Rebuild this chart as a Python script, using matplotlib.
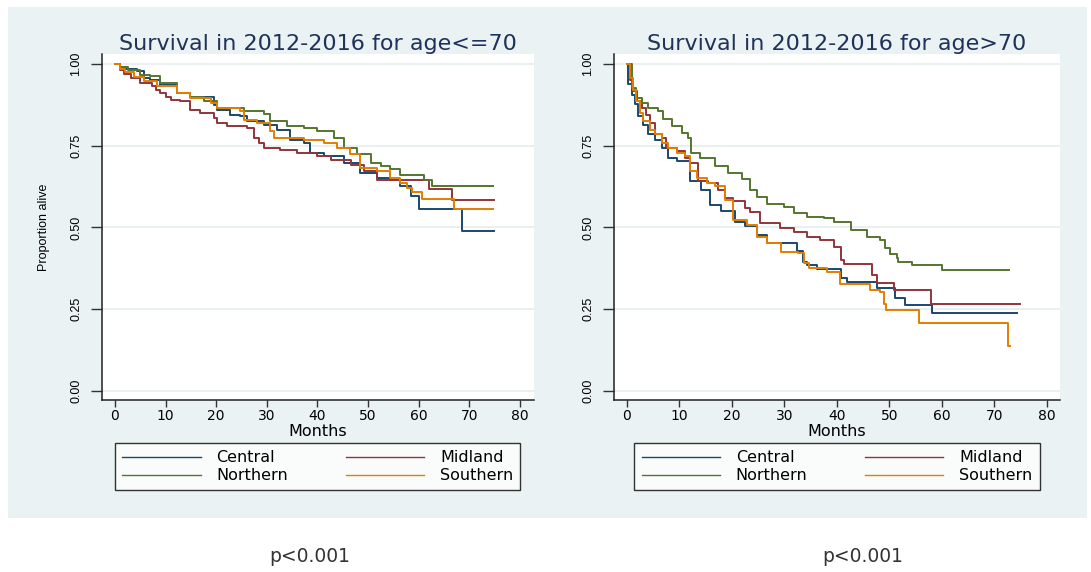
import matplotlib
matplotlib.use("Agg")
import matplotlib.pyplot as plt
from matplotlib import font_manager
from matplotlib.patches import Rectangle

# Kaplan-Meier step points (months, proportion alive)
regions = ["Central", "Midland", "Northern", "Southern"]
colors = ["#1a476f", "#90353b", "#55752f", "#e37e00"]

# age <= 70
young_central_t = [0, 1.0, 2.0, 4.4, 5.7, 7.0, 9.0, 12.3, 14.9, 19.5, 20.2, 22.8, 24.8, 26.1, 29.4, 32.0,
                   34.6, 37.3, 38.6, 41.3, 45.2, 48.5, 51.8, 54.4, 56.4, 58.4, 60.0, 68.5, 74.9]
young_central_s = [1.0, 0.99, 0.985, 0.977, 0.956, 0.952, 0.936, 0.911, 0.90, 0.875, 0.86, 0.845, 0.84, 0.824,
                   0.814, 0.799, 0.768, 0.758, 0.728, 0.717, 0.697, 0.667, 0.651, 0.646, 0.626, 0.596, 0.555,
                   0.488, 0.488]
young_midland_t = [0, 1.0, 1.7, 3.1, 5.0, 7.3, 8.2, 9.0, 10.0, 11.0, 12.9, 14.9, 16.9, 19.5, 20.2, 22.2, 26.1,
                   27.4, 28.4, 29.4, 32.7, 36.0, 40.0, 42.6, 46.6, 49.2, 51.8, 62.0, 66.5, 74.8]
young_midland_s = [1.0, 0.98, 0.97, 0.956, 0.941, 0.931, 0.92, 0.911, 0.90, 0.89, 0.885, 0.86, 0.85, 0.834,
                   0.819, 0.809, 0.804, 0.773, 0.758, 0.743, 0.738, 0.726, 0.717, 0.707, 0.692, 0.672, 0.646,
                   0.618, 0.585, 0.585]
young_northern_t = [0, 1.0, 2.5, 5.0, 7.0, 9.0, 12.3, 14.9, 17.6, 20.2, 25.5, 29.4, 30.7, 34.0, 37.3, 40.0, 43.3,
                    45.2, 47.9, 50.5, 52.5, 54.4, 56.4, 61.0, 62.7, 74.7]
young_northern_s = [1.0, 0.99, 0.98, 0.966, 0.963, 0.941, 0.911, 0.90, 0.885, 0.865, 0.855, 0.848, 0.824, 0.811,
                    0.804, 0.794, 0.773, 0.743, 0.723, 0.697, 0.687, 0.677, 0.659, 0.646, 0.626, 0.626]
young_southern_t = [0, 1.0, 2.0, 3.7, 5.7, 8.3, 12.3, 14.9, 18.9, 20.2, 24.8, 25.5, 28.1, 30.7, 31.4, 37.3, 41.3,
                    43.9, 46.5, 48.5, 51.8, 54.4, 56.4, 57.8, 58.7, 60.7, 66.9, 74.6]
young_southern_s = [1.0, 0.985, 0.975, 0.961, 0.949, 0.931, 0.911, 0.895, 0.88, 0.865, 0.855, 0.829, 0.819, 0.794,
                    0.773, 0.768, 0.758, 0.743, 0.723, 0.682, 0.672, 0.651, 0.636, 0.62, 0.608, 0.587, 0.557,
                    0.557]

# age > 70
old_central_t = [0, 0.25, 0.9, 1.5, 2.2, 3.1, 4.1, 5.3, 6.6, 7.8, 9.5, 12.0, 14.2, 15.8, 18.0, 20.6, 22.5, 24.8,
                 26.7, 32.4, 33.5, 34.3, 36.2, 40.7, 41.9, 47.6, 51.1, 53.0, 58.1, 74.4]
old_central_s = [1.0, 0.937, 0.906, 0.876, 0.84, 0.814, 0.784, 0.768, 0.743, 0.712, 0.702, 0.641, 0.615, 0.569,
                 0.549, 0.518, 0.503, 0.477, 0.453, 0.427, 0.395, 0.384, 0.372, 0.344, 0.333, 0.316, 0.283,
                 0.262, 0.237, 0.237]
old_midland_t = [0, 0.5, 1.2, 2.0, 2.8, 3.7, 4.4, 5.3, 6.6, 7.5, 9.5, 11.0, 12.0, 13.6, 15.5, 17.4, 18.7, 20.3,
                 22.5, 23.5, 25.4, 29.2, 31.8, 34.3, 36.8, 39.4, 40.7, 41.3, 46.7, 47.7, 50.8, 57.9, 74.9]
old_midland_s = [1.0, 0.95, 0.916, 0.885, 0.865, 0.845, 0.819, 0.784, 0.773, 0.743, 0.733, 0.712, 0.697, 0.641,
                 0.636, 0.615, 0.59, 0.58, 0.559, 0.548, 0.513, 0.497, 0.487, 0.471, 0.461, 0.441, 0.40, 0.388,
                 0.354, 0.329, 0.308, 0.265, 0.265]
old_northern_t = [0, 0.9, 1.8, 2.8, 4.1, 6.0, 6.9, 8.5, 10.4, 11.7, 12.3, 13.9, 16.8, 19.3, 22.0, 23.5, 24.8,
                  26.7, 29.9, 31.8, 34.3, 37.5, 39.4, 42.6, 45.7, 48.3, 49.2, 50.2, 51.4, 51.7, 54.3, 60.0, 72.7]
old_northern_s = [1.0, 0.927, 0.896, 0.881, 0.865, 0.855, 0.83, 0.809, 0.789, 0.773, 0.728, 0.712, 0.687, 0.666,
                  0.648, 0.614, 0.594, 0.573, 0.563, 0.543, 0.533, 0.528, 0.517, 0.492, 0.471, 0.461, 0.436,
                  0.42, 0.405, 0.393, 0.385, 0.369, 0.369]
old_southern_t = [0, 0.6, 1.2, 1.8, 2.5, 3.1, 4.4, 5.3, 6.6, 7.8, 9.5, 11.0, 12.0, 13.3, 15.2, 16.8, 18.7, 20.3,
                  22.8, 24.8, 26.7, 29.3, 32.5, 33.8, 34.7, 38.1, 40.6, 46.3, 48.2, 48.9, 49.4, 55.7, 72.5, 73.0]
old_southern_s = [1.0, 0.957, 0.921, 0.886, 0.85, 0.824, 0.799, 0.784, 0.758, 0.743, 0.728, 0.717, 0.671, 0.651,
                  0.636, 0.626, 0.585, 0.522, 0.507, 0.471, 0.453, 0.426, 0.421, 0.39, 0.375, 0.365, 0.328,
                  0.308, 0.303, 0.267, 0.247, 0.208, 0.137, 0.137]

young_t = [young_central_t, young_midland_t, young_northern_t, young_southern_t]
young_s = [young_central_s, young_midland_s, young_northern_s, young_southern_s]
old_t = [old_central_t, old_midland_t, old_northern_t, old_southern_t]
old_s = [old_central_s, old_midland_s, old_northern_s, old_southern_s]

titles = ["Survival in 2012-2016 for age<=70", "Survival in 2012-2016 for age>70"]
x_ticks = [0, 10, 20, 30, 40, 50, 60, 70, 80]
y_ticks = [0.0, 0.25, 0.5, 0.75, 1.0]
y_tick_labels = ["0.00", "0.25", "0.50", "0.75", "1.00"]
p_text = "p<0.001"

# narrow font for the y axis, like the original
installed = {f.name for f in font_manager.fontManager.ttflist}
if "Liberation Sans Narrow" in installed:
    narrow_font, narrow_size = "Liberation Sans Narrow", 10.5
elif "Liberation Sans" in installed:
    narrow_font, narrow_size = "Liberation Sans", 9
else:
    narrow_font, narrow_size = "DejaVu Sans", 8.5

plt.rcParams["font.family"] = "DejaVu Sans"
W, H = 1091, 572
fig = plt.figure(figsize=(W / 100, H / 100), dpi=100)
fig.patch.set_facecolor("white")
fig.patches.append(Rectangle((8 / W, 1 - 518 / H), 1079 / W, 511 / H, transform=fig.transFigure,
                             facecolor="#eaf2f3", edgecolor="none", zorder=-5))

ax1 = fig.add_axes([102 / W, 1 - 400 / H, 431.5 / W, 346 / H])
ax2 = fig.add_axes([614 / W, 1 - 400 / H, 446 / W, 346 / H])

panels = [(ax1, young_t, young_s, titles[0], (-2.55, 82.7)),
          (ax2, old_t, old_s, titles[1], (-2.46, 82.5))]

for ax, ts, ss, title, xl in panels:
    ax.set_facecolor("white")
    lines = []
    for t, s, c, name in zip(ts, ss, colors, regions):
        ln, = ax.plot(t, s, drawstyle="steps-post", color=c, lw=1.4, label=name)
        lines.append(ln)
    ax.set_xlim(xl)
    ax.set_ylim(-0.0275, 1.03)
    ax.set_xticks(x_ticks)
    ax.set_yticks(y_ticks)
    ax.set_yticklabels(y_tick_labels, rotation=90, va="center", fontfamily=narrow_font, fontsize=narrow_size)
    ax.tick_params(axis="x", length=5, width=1, color="#333333", labelsize=10, pad=1.5)
    ax.tick_params(axis="y", length=8, width=1, color="#333333", pad=6)
    ax.grid(axis="y", color="#e6eef0", lw=1.2)
    ax.set_axisbelow(True)
    for side in ["top", "right"]:
        ax.spines[side].set_visible(False)
    for side in ["left", "bottom"]:
        ax.spines[side].set_color("#222222")
        ax.spines[side].set_linewidth(1.1)
    ax.set_title(title, fontsize=16, color="#1e3359", pad=3)
    ax.set_xlabel("Months", fontsize=11.5)
    ax.xaxis.set_label_coords(0.5, -0.07)
    # row-wise legend order: Central, Midland / Northern, Southern
    order = [0, 2, 1, 3]
    leg = ax.legend([lines[i] for i in order], [regions[i] for i in order],
                    loc="upper center", bbox_to_anchor=(0.5, -0.124), ncol=2, fontsize=11.5,
                    frameon=True, fancybox=False, edgecolor="black", handlelength=4.9,
                    handletextpad=1.0, columnspacing=3.6, labelspacing=0.2, borderpad=0.45,
                    borderaxespad=0)
    leg.get_frame().set_linewidth(1.0)
    for line in leg.get_lines():
        line.set_linewidth(1.0)

ax1.set_ylabel("Proportion alive", fontfamily=narrow_font, fontsize=narrow_size)
ax1.yaxis.set_label_coords(-0.12, 0.5)

fig.text(310 / W, 1 - 557 / H, p_text, ha="center", va="center", fontsize=13.5, color="#333333")
fig.text(863 / W, 1 - 557 / H, p_text, ha="center", va="center", fontsize=13.5, color="#333333")

fig.savefig("out.png", dpi=100)
